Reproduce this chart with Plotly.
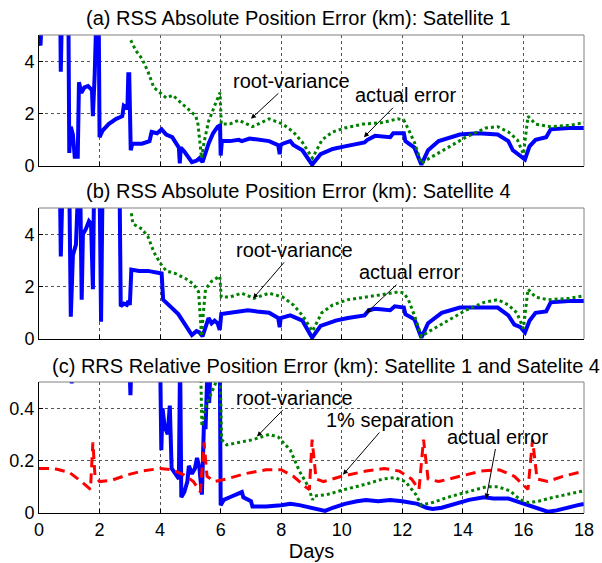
import plotly.graph_objects as go

# ---------------- data (day, value) ----------------
sat1_actual = [(0.0, 4.8), (0.05, 4.6), (0.1, 6), (0.7, 6), (0.72, 3.6), (0.76, 6), (0.97, 6), (1.0, 0.5),
               (1.05, 1.5), (1.12, 1.2), (1.18, 0.35), (1.28, 0.35), (1.32, 3.2), (1.4, 2.8), (1.5, 3.0),
               (1.62, 3.05), (1.75, 2.9), (1.78, 1.9), (1.84, 3.5), (1.9, 6), (1.97, 6), (2.0, 1.1),
               (2.1, 1.35), (2.3, 1.6), (2.55, 1.8), (2.75, 1.9), (2.8, 2.3), (2.92, 2.2), (2.95, 3.5),
               (2.98, 3.5), (3.03, 0.6), (3.08, 0.85), (3.4, 0.85), (3.65, 0.95), (3.72, 1.3), (3.9, 1.25),
               (4.05, 1.4), (4.2, 1.2), (4.4, 1.1), (4.55, 0.8), (4.62, 0.7), (4.65, 0.1), (4.68, 0.7),
               (4.8, 0.55), (4.95, 0.3), (5.05, 0.15), (5.2, 0.2), (5.3, 0.3), (5.4, 0.15), (5.5, 0.5),
               (5.6, 0.85), (5.75, 1.25), (5.9, 1.5), (5.98, 1.55), (6.0, 0.4), (6.04, 0.95), (6.3, 0.95),
               (6.6, 1.0), (6.7, 0.95), (6.95, 1.05), (7.3, 1.0), (7.6, 0.95), (7.9, 0.8), (7.95, 0.45),
               (7.98, 0.8), (8.05, 0.85), (8.3, 0.95), (8.4, 0.8), (8.7, 0.6), (9.02, 0.05), (9.3, 0.45),
               (9.7, 0.65), (10.1, 0.75), (10.5, 0.85), (10.75, 0.9), (10.85, 1.0), (11.1, 1.15),
               (11.6, 1.1), (11.7, 1.25), (12.05, 1.25), (12.1, 0.95), (12.4, 0.7), (12.63, 0.05),
               (12.85, 0.6), (13.2, 0.95), (13.9, 1.2), (14.5, 1.25), (15.15, 1.2), (15.5, 0.95),
               (15.65, 0.6), (15.9, 0.4), (16.05, 0.25), (16.2, 0.75), (16.4, 1.0), (16.75, 1.1),
               (16.9, 1.4), (17.5, 1.45), (18.0, 1.45)]

sat1_rootvar = [(3.03, 4.8), (3.2, 4.4), (3.4, 4.1), (3.6, 3.6), (3.79, 3.0), (4.0, 2.8), (4.2, 2.6),
                (4.42, 2.7), (4.6, 2.5), (4.8, 2.3), (5.0, 2.1), (5.18, 1.9), (5.25, 1.6), (5.32, 0.9),
                (5.37, 0.3), (5.45, 0.9), (5.6, 1.7), (5.8, 2.3), (5.98, 2.8), (6.02, 1.6), (6.3, 1.6),
                (6.6, 1.75), (7.05, 1.5), (7.6, 1.8), (8.05, 1.6), (8.4, 1.3), (8.7, 0.9), (9.03, 0.3),
                (9.35, 1.0), (9.7, 1.3), (10.1, 1.45), (10.7, 1.6), (11.3, 1.65), (11.85, 1.8),
                (12.05, 1.75), (12.2, 1.4), (12.4, 0.9), (12.63, 0.1), (12.9, 0.3), (13.5, 0.7),
                (14.1, 1.1), (14.75, 1.45), (15.15, 1.5), (15.5, 1.3), (15.8, 1.0), (16.0, 0.45),
                (16.15, 1.9), (16.4, 1.6), (16.9, 1.5), (17.5, 1.55), (18.0, 1.65)]

sat4_actual = [(0.0, 6), (0.69, 6), (0.72, 3.15), (0.78, 6), (1.0, 6), (1.05, 0.85), (1.12, 3.2),
               (1.22, 3.6), (1.3, 6), (1.36, 6), (1.41, 1.5), (1.45, 4.0), (1.55, 4.2), (1.65, 4.5),
               (1.72, 4.4), (1.78, 1.9), (1.82, 6), (2.0, 6), (2.05, 0.66), (2.1, 6), (2.66, 6),
               (2.7, 1.25), (2.8, 1.35), (2.9, 1.3), (2.95, 1.45), (3.0, 1.3), (3.05, 2.65), (3.3, 2.6),
               (3.6, 2.6), (3.85, 2.55), (4.05, 2.5), (4.1, 1.5), (4.2, 1.4), (4.4, 1.2), (4.6, 0.95),
               (4.8, 0.6), (4.95, 0.3), (5.05, 0.15), (5.2, 0.3), (5.3, 0.25), (5.4, 0.1), (5.5, 0.5),
               (5.6, 0.8), (5.7, 0.6), (5.8, 0.7), (5.9, 0.6), (5.97, 0.35), (6.02, 0.95), (6.3, 1.0),
               (6.6, 1.05), (6.9, 1.1), (7.2, 1.05), (7.6, 1.0), (7.9, 0.8), (7.95, 0.45), (7.98, 0.8),
               (8.3, 0.9), (8.7, 0.7), (9.02, 0.05), (9.3, 0.5), (9.8, 0.7), (10.2, 0.8), (10.75, 0.9),
               (10.9, 1.1), (11.1, 1.15), (11.6, 1.1), (11.75, 1.25), (12.05, 1.2), (12.1, 0.95),
               (12.4, 0.75), (12.63, 0.05), (12.85, 0.6), (13.3, 1.0), (13.9, 1.2), (14.5, 1.2),
               (15.15, 1.2), (15.5, 0.9), (15.7, 0.55), (15.9, 0.45), (16.05, 0.25), (16.2, 0.7),
               (16.4, 1.0), (16.75, 1.05), (16.9, 1.4), (17.5, 1.45), (18.0, 1.45)]

sat4_rootvar = [(3.05, 4.8), (3.1, 4.4), (3.4, 4.2), (3.6, 3.9), (3.8, 3.3), (4.0, 2.9), (4.2, 2.6),
                (4.5, 2.5), (4.85, 2.3), (5.1, 2.1), (5.27, 1.8), (5.33, 0.8), (5.37, 0.1), (5.42, 0.9),
                (5.5, 1.9), (5.7, 2.2), (5.97, 2.4), (6.02, 1.6), (6.3, 1.6), (6.7, 1.75), (7.1, 1.55),
                (7.6, 1.75), (8.05, 1.6), (8.4, 1.3), (8.7, 0.9), (9.03, 0.3), (9.34, 1.0), (9.7, 1.3),
                (10.2, 1.5), (10.8, 1.6), (11.4, 1.7), (11.9, 1.8), (12.05, 1.75), (12.2, 1.5),
                (12.4, 0.9), (12.63, 0.1), (12.9, 0.3), (13.5, 0.7), (14.1, 1.1), (14.7, 1.4),
                (15.15, 1.5), (15.5, 1.3), (15.78, 1.0), (16.0, 0.4), (16.15, 1.9), (16.4, 1.6),
                (16.8, 1.5), (17.5, 1.55), (18.0, 1.65)]

rel_actual = [(1.05, 0.6), (1.08, 0.495), (1.12, 0.6), (2.98, 0.6), (3.02, 0.45), (3.06, 0.6), (4.0, 0.6),
              (4.04, 0.24), (4.08, 0.4), (4.15, 0.33), (4.25, 0.3), (4.32, 0.41), (4.38, 0.17),
              (4.5, 0.15), (4.62, 0.13), (4.66, 0.6), (4.7, 0.06), (4.8, 0.08), (4.9, 0.12), (4.95, 0.18),
              (5.05, 0.15), (5.15, 0.17), (5.22, 0.21), (5.3, 0.17), (5.38, 0.07), (5.45, 0.35),
              (5.5, 0.32), (5.55, 0.5), (5.62, 0.42), (5.68, 0.6), (5.85, 0.6), (5.9, 0.5), (5.97, 0.6),
              (6.0, 0.03), (6.1, 0.05), (6.3, 0.06), (6.5, 0.07), (6.7, 0.08), (6.75, 0.06), (6.9, 0.05),
              (7.0, 0.045), (7.05, 0.025), (7.5, 0.025), (8.0, 0.03), (8.3, 0.035), (8.6, 0.03),
              (9.0, 0.02), (9.3, 0.015), (9.45, 0.008), (9.7, 0.02), (10.1, 0.035), (10.5, 0.045),
              (10.8, 0.05), (11.2, 0.045), (11.6, 0.05), (12.0, 0.045), (12.5, 0.035), (12.8, 0.02),
              (13.0, 0.015), (13.3, 0.02), (13.7, 0.035), (14.2, 0.05), (14.7, 0.06), (15.0, 0.055),
              (15.5, 0.055), (15.9, 0.04), (16.3, 0.025), (16.6, 0.01), (16.8, 0.005), (17.1, 0.01),
              (17.4, 0.02), (17.8, 0.03), (18.0, 0.035)]

rel_rootvar = [(5.33, 0.6), (5.38, 0.33), (5.45, 0.38), (5.55, 0.42), (5.7, 0.46), (5.85, 0.5),
               (5.97, 0.6), (6.03, 0.28), (6.2, 0.26), (6.6, 0.27), (7.07, 0.28), (7.6, 0.3), (7.9, 0.29),
               (8.3, 0.24), (8.6, 0.16), (8.9, 0.1), (9.03, 0.05), (9.1, 0.065), (9.5, 0.07), (10.1, 0.09),
               (10.8, 0.11), (11.36, 0.13), (11.75, 0.135), (12.1, 0.12), (12.45, 0.07), (12.63, 0.03),
               (13.0, 0.04), (13.5, 0.06), (14.1, 0.08), (14.77, 0.1), (15.15, 0.1), (15.55, 0.085),
               (15.9, 0.05), (16.16, 0.04), (16.5, 0.045), (17.0, 0.06), (18.0, 0.085)]

rel_separation = [(0.0, 0.17), (0.5, 0.17), (1.0, 0.155), (1.4, 0.12), (1.7, 0.09), (1.78, 0.27),
                  (1.85, 0.14), (2.0, 0.12), (2.4, 0.125), (2.9, 0.145), (3.4, 0.16), (4.0, 0.17),
                  (4.4, 0.165), (4.8, 0.145), (5.1, 0.12), (5.33, 0.08), (5.45, 0.27), (5.55, 0.14),
                  (5.8, 0.12), (6.2, 0.13), (6.8, 0.15), (7.5, 0.165), (8.0, 0.165), (8.4, 0.14),
                  (8.8, 0.1), (8.93, 0.09), (9.02, 0.28), (9.15, 0.13), (9.4, 0.12), (10.0, 0.14),
                  (10.8, 0.16), (11.4, 0.17), (11.9, 0.16), (12.3, 0.13), (12.55, 0.09), (12.7, 0.28),
                  (12.85, 0.13), (13.2, 0.12), (13.9, 0.14), (14.6, 0.16), (15.2, 0.165), (15.7, 0.14),
                  (16.15, 0.09), (16.3, 0.28), (16.45, 0.13), (16.8, 0.12), (17.3, 0.14), (18.0, 0.16)]

# labels: (text, text_day, text_value, arrow_day, arrow_value)
labels_a = [("root-variance", 8.35, 3.25, 7.0, 1.8), ("actual error", 12.1, 2.7, 10.73, 1.1)]
labels_b = [("root-variance", 8.45, 3.4, 7.07, 1.55), ("actual error", 12.25, 2.55, 10.8, 0.98)]
labels_c = [("root-variance", 8.45, 0.44, 7.2, 0.292), ("1% separation", 11.6, 0.355, 10.04, 0.146),
            ("actual error", 15.15, 0.292, 14.77, 0.055)]

titles = ["(a) RSS Absolute Position Error (km): Satellite 1",
          "(b) RSS Absolute Position Error (km): Satellite 4",
          "(c) RRS Relative Position Error (km): Satellite 1 and Satelite 4"]
x_ticks = [0, 2, 4, 6, 8, 10, 12, 14, 16, 18]
y_ticks_abs = [0, 2, 4]
y_ticks_rel = [0, 0.2, 0.4]
y_ticktext_rel = ["0", "0.2", "0.4"]

# ---------------- figure ----------------
FONT = "Liberation Sans, Arial, sans-serif"
BLUE, GREEN, RED = "#0000FF", "#008000", "#FF0000"
TXT = 20
TICK = 18

fig = go.Figure()


def add(series, ax, color, width, dash):
    fig.add_trace(go.Scatter(
        x=[p[0] for p in series], y=[p[1] for p in series],
        xaxis="x" + ax, yaxis="y" + ax, mode="lines",
        line=dict(color=color, width=width, dash=dash),
        showlegend=False, hoverinfo="skip"))


add(sat1_actual, "", BLUE, 4, "solid")
add(sat1_rootvar, "", GREEN, 3, "3px,3px")
add(sat4_actual, "2", BLUE, 4, "solid")
add(sat4_rootvar, "2", GREEN, 3, "3px,3px")
add(rel_actual, "3", BLUE, 4, "solid")
add(rel_rootvar, "3", GREEN, 3, "3px,3px")
add(rel_separation, "3", RED, 3, "10px,6px")

xcommon = dict(range=[0, 18], tickvals=x_ticks, showgrid=True, griddash="dot", gridcolor="#555555",
               gridwidth=1, ticks="inside", ticklen=4, tickcolor="black", showline=True,
               linecolor="black", linewidth=1, mirror=False, zeroline=False, automargin=False,
               tickfont=dict(family=FONT, size=TICK, color="black"))
ycommon = dict(showgrid=True, griddash="dot", gridcolor="#555555", gridwidth=1, ticks="inside",
               ticklen=4, tickcolor="black", showline=True, linecolor="black", linewidth=1,
               mirror=False, zeroline=False, automargin=False,
               tickfont=dict(family=FONT, size=TICK, color="black"))

H_TOP, H_BOT = 35, 513  # plot area pixel extents (top, bottom)


def py(p):
    return (H_BOT - p) / (H_BOT - H_TOP)


def px(p):
    return (p - 39) / 545


fig.update_layout(
    width=602, height=563,
    margin=dict(l=39, r=18, t=35, b=50, autoexpand=False),
    paper_bgcolor="white", plot_bgcolor="white",
    font=dict(family=FONT, size=TXT, color="black"),
    xaxis=dict(xcommon, anchor="y", showticklabels=False),
    yaxis=dict(ycommon, domain=[py(166), 1.0], range=[0, 5], tickvals=y_ticks_abs, anchor="x"),
    xaxis2=dict(xcommon, anchor="y2", showticklabels=False),
    yaxis2=dict(ycommon, domain=[py(339), py(208)], range=[0, 5], tickvals=y_ticks_abs, anchor="x2"),
    xaxis3=dict(xcommon, anchor="y3",
                title=dict(text="Days", font=dict(family=FONT, size=TXT), standoff=4)),
    yaxis3=dict(ycommon, domain=[0, py(382)], range=[0, 0.5], tickvals=y_ticks_rel,
                ticktext=y_ticktext_rel, anchor="x3"),
)

# grey top/right box edges (MATLAB style)
shapes = []
for ax in ["", "2", "3"]:
    shapes.append(dict(type="line", xref="x" + ax + " domain", yref="y" + ax + " domain",
                       x0=0, x1=1, y0=1, y1=1, line=dict(color="#808080", width=1)))
    shapes.append(dict(type="line", xref="x" + ax + " domain", yref="y" + ax + " domain",
                       x0=1, x1=1, y0=0, y1=1, line=dict(color="#808080", width=1)))
fig.update_layout(shapes=shapes)

ann = []
for t, cx, cy in zip(titles, [298, 298, 326], [18, 191, 366]):
    ann.append(dict(text=t, x=px(cx), y=py(cy), xref="paper", yref="paper", showarrow=False,
                    xanchor="center", yanchor="middle", font=dict(family=FONT, size=TXT, color="black")))

for labels, ax in [(labels_a, ""), (labels_b, "2"), (labels_c, "3")]:
    for text, tx, ty, hx, hy in labels:
        ann.append(dict(text=text, x=hx, y=hy, ax=tx, ay=ty, xref="x" + ax, yref="y" + ax,
                        axref="x" + ax, ayref="y" + ax, showarrow=True, arrowhead=2, arrowsize=1,
                        arrowwidth=1, arrowcolor="black", standoff=0,
                        font=dict(family=FONT, size=TXT, color="black")))

fig.update_layout(annotations=ann)
fig.write_html("out.html", config={"displayModeBar": False},
               post_script="document.body.style.margin='0';document.body.style.padding='0';")
